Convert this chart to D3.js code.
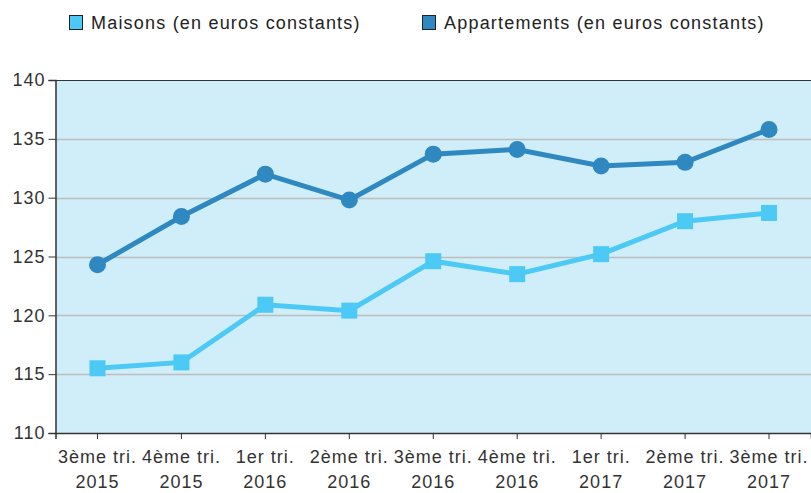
<!DOCTYPE html>
<html>
<head>
<meta charset="utf-8">
<script src="https://cdn.jsdelivr.net/npm/d3@7"></script>
<style>
  body { margin: 0; background: #fff; }
  text { font-family: "Liberation Sans", Arial, sans-serif; }
</style>
</head>
<body>
<div id="chart"></div>
<script>
// Data
var quarters = ["3ème tri.", "4ème tri.", "1er tri.", "2ème tri.", "3ème tri.", "4ème tri.", "1er tri.", "2ème tri.", "3ème tri."];
var years = ["2015", "2015", "2016", "2016", "2016", "2016", "2017", "2017", "2017"];
var maisons = [115.5, 116.0, 120.9, 120.4, 124.6, 123.5, 125.2, 128.0, 128.7];
var appartements = [124.3, 128.4, 132.0, 129.8, 133.7, 134.1, 132.7, 133.0, 135.8];
var yTicks = [110, 115, 120, 125, 130, 135, 140];
var seriesNames = ["Maisons (en euros constants)", "Appartements (en euros constants)"];

var width = 811, height = 493;
var margin = { top: 80, right: 0, bottom: 60, left: 55.5 };
var fontSize = 18, spacing = "1px";

var svg = d3.select("#chart")
    .append("svg")
    .attr("width", width)
    .attr("height", height);

var x = d3.scaleBand()
    .domain(d3.range(quarters.length))
    .range([margin.left, width - margin.right]);

var y = d3.scaleLinear()
    .domain([110, 140])
    .range([height - margin.bottom, margin.top]);

// plot background
svg.append("rect")
    .attr("x", margin.left)
    .attr("y", margin.top)
    .attr("width", width - margin.left)
    .attr("height", y(110) - y(140))
    .attr("fill", "#d0eefa");

// grid lines
svg.selectAll("line.grid")
    .data(yTicks.slice(1, -1))
    .enter()
    .append("line")
    .attr("x1", margin.left)
    .attr("x2", width)
    .attr("y1", d => Math.round(y(d)) + 0.5)
    .attr("y2", d => Math.round(y(d)) + 0.5)
    .attr("stroke", "#bdbdbd")
    .attr("stroke-width", 1.5);

// top border
svg.append("line")
    .attr("x1", margin.left).attr("x2", width)
    .attr("y1", y(140) + 0.5).attr("y2", y(140) + 0.5)
    .attr("stroke", "#333");

// y axis
var yAxis = svg.append("g")
    .attr("transform", "translate(" + margin.left + ",0)")
    .call(d3.axisLeft(y).tickValues(yTicks).tickSize(7).tickPadding(3));

// x axis
var xAxis = svg.append("g")
    .attr("transform", "translate(0," + y(110) + ")")
    .call(d3.axisBottom(x).tickSize(6).tickFormat(""));

[yAxis, xAxis].forEach(function (a) {
    a.select(".domain").attr("stroke", "#333").attr("stroke-width", 1.5);
    a.selectAll(".tick line").attr("stroke", "#333");
    a.selectAll("text").attr("fill", "#333").attr("font-size", fontSize)
        .attr("letter-spacing", spacing)
        .attr("font-family", "'Liberation Sans', Arial, sans-serif");
});

// x labels, two lines
var xl = svg.append("g");
xl.selectAll("text")
    .data(quarters)
    .enter()
    .append("text")
    .attr("x", (d, i) => x(i) + x.bandwidth() / 2)
    .attr("y", y(110) + 30)
    .attr("text-anchor", "middle")
    .attr("font-size", fontSize)
    .attr("letter-spacing", spacing)
    .attr("fill", "#333")
    .each(function (d, i) {
        d3.select(this).append("tspan").attr("x", x(i) + x.bandwidth() / 2).text(d);
        d3.select(this).append("tspan").attr("x", x(i) + x.bandwidth() / 2).attr("dy", 25).text(years[i]);
    });

var cx = (d, i) => x(i) + x.bandwidth() / 2;
var line = d3.line().x(cx).y(d => y(d));

// Appartements
svg.append("path")
    .datum(appartements)
    .attr("d", line)
    .attr("fill", "none")
    .attr("stroke", "#2f88bf")
    .attr("stroke-width", 5);
svg.selectAll("circle.app")
    .data(appartements)
    .enter()
    .append("circle")
    .attr("cx", cx)
    .attr("cy", d => y(d))
    .attr("r", 8.5)
    .attr("fill", "#2f88bf");

// Maisons
svg.append("path")
    .datum(maisons)
    .attr("d", line)
    .attr("fill", "none")
    .attr("stroke", "#4cc9f5")
    .attr("stroke-width", 5);
svg.selectAll("rect.mai")
    .data(maisons)
    .enter()
    .append("rect")
    .attr("x", (d, i) => cx(d, i) - 8)
    .attr("y", d => y(d) - 8)
    .attr("width", 16)
    .attr("height", 16)
    .attr("fill", "#4cc9f5");

// legend
var legendX = [69, 422];
var legendColors = ["#4cc9f5", "#2f88bf"];
var lg = svg.selectAll("g.legend")
    .data(seriesNames)
    .enter()
    .append("g")
    .attr("transform", (d, i) => "translate(" + legendX[i] + ",15)");
lg.append("rect")
    .attr("x", 0.5).attr("y", 0.5)
    .attr("width", 13).attr("height", 14)
    .attr("fill", (d, i) => legendColors[i])
    .attr("stroke", "#222");
lg.append("text")
    .attr("x", 22)
    .attr("y", 14)
    .attr("font-size", fontSize)
    .attr("letter-spacing", "1.2px")
    .attr("fill", "#222")
    .text(d => d);
</script>
</body>
</html>
